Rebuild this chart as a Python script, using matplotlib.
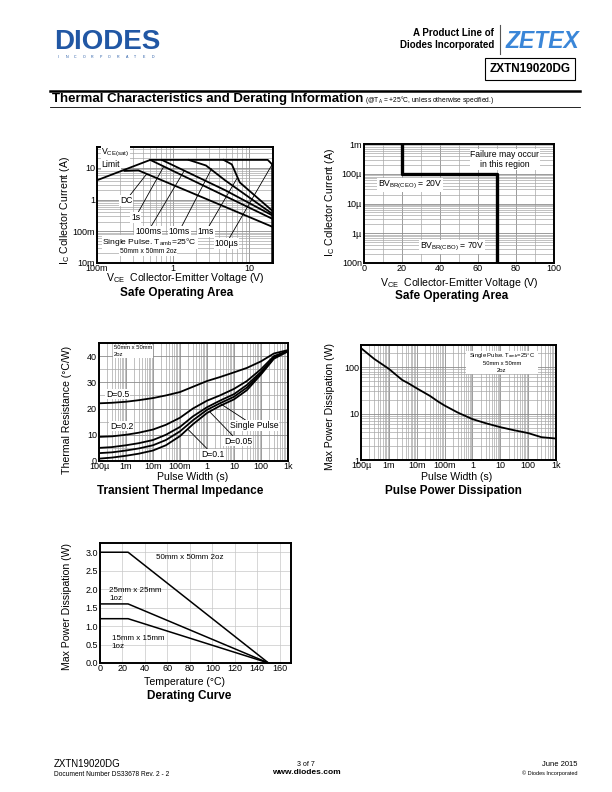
import numpy as np
import matplotlib
matplotlib.use("Agg")
import matplotlib.pyplot as plt
from matplotlib.ticker import FixedLocator, MultipleLocator, LogLocator, NullFormatter

plt.rcParams['font.family'] = ['Liberation Sans', 'DejaVu Sans']
plt.rcParams['mathtext.fontset'] = 'custom'
plt.rcParams['mathtext.rm'] = 'Liberation Sans'

W, H = 612, 792

# ---- data: safe operating area (log-log) ----
soa_env_v = [0.1, 0.5, 17.5, 20, 20]
soa_env_i = [4.1, 18, 18, 13, 0.01]
soa_dc_v = [0.23, 0.35, 20]
soa_dc_i = [8.1, 8.4, 0.14]
soa_1s_v = [0.5, 20]
soa_1s_i = [18, 0.25]
soa_100ms_v = [0.71, 4.8, 20]
soa_100ms_i = [18, 2.0, 0.32]
soa_10ms_v = [1.6, 2.7, 4.8, 20]
soa_10ms_i = [18, 12, 4.1, 0.36]
soa_1ms_v = [4.6, 5.9, 7.5, 20]
soa_1ms_i = [18, 13, 3.5, 0.45]
soa_xticks = [0.1, 1, 10]
soa_xlabels = ['100m', '1', '10']
soa_yticks = [0.01, 0.1, 1, 10]
soa_ylabels = ['10m', '100m', '1', '10']

# ---- data: breakdown SOA ----
bv_v = [20, 20, 70, 70]
bv_i = [1e-3, 1e-4, 1e-4, 1e-7]
bv_xticks = [0, 20, 40, 60, 80, 100]
bv_yticks = [1e-7, 1e-6, 1e-5, 1e-4, 1e-3]
bv_ylabels = ['100n', '1µ', '10µ', '100µ', '1m']

# ---- data: transient thermal impedance ----
tw = [1e-4, 3e-4, 1e-3, 3e-3, 1e-2, 3e-2, 0.1, 0.3, 1, 3, 10, 30, 100, 300, 1000]
z_d05 = [22.0, 22.2, 22.6, 23.2, 24.0, 25.0, 26.3, 28.3, 30.5, 32.0, 33.8, 35.5, 38.0, 41.0, 42.3]
z_d02 = [9.2, 9.4, 10.0, 10.8, 12.0, 13.8, 16.5, 20.0, 23.0, 25.0, 27.5, 30.5, 35.0, 40.0, 42.0]
z_d01 = [5.0, 5.3, 6.0, 6.8, 8.0, 10.0, 13.0, 17.0, 20.5, 23.0, 25.5, 29.0, 34.0, 39.5, 42.0]
z_d005 = [3.0, 3.3, 4.0, 4.8, 6.0, 8.0, 11.3, 15.5, 19.5, 22.0, 24.5, 28.0, 33.5, 39.3, 42.0]
z_sp = [0.9, 1.3, 2.0, 2.8, 4.0, 6.0, 9.5, 14.0, 18.3, 21.0, 23.5, 27.0, 33.0, 39.0, 41.8]
pw_xticks = [1e-4, 1e-3, 1e-2, 1e-1, 1, 10, 100, 1000]
pw_xlabels = ['100µ', '1m', '10m', '100m', '1', '10', '100', '1k']

# ---- data: pulse power dissipation ----
pp_t = [1e-4, 3e-4, 1e-3, 3e-3, 5e-3, 1e-2, 3e-2, 6e-2, 0.1, 0.3, 1, 3, 10, 30, 100, 300, 1000]
pp_p = [257, 150, 92, 53, 45, 35, 24, 18, 14.9, 10.5, 7.6, 6.2, 5.1, 4.4, 3.8, 3.1, 2.9]

# ---- data: derating ----
der_t = [0, 25, 150]
der_50 = [3.0, 3.0, 0]
der_25 = [1.6, 1.6, 0]
der_15 = [1.2, 1.2, 0]

fig = plt.figure(figsize=(W / 100, H / 100), dpi=100)


def box(x0, y0, x1, y1):
    return [x0 / W, 1 - y1 / H, (x1 - x0) / W, (y1 - y0) / H]


def ftxt(x, y, s, **kw):
    fig.text(x / W, 1 - y / H, s, **kw)


def style(ax):
    for s in ax.spines.values():
        s.set_linewidth(1.4)
    ax.tick_params(which='both', length=0, labelsize=6.5)
    ax.tick_params(axis='x', pad=1)
    ax.tick_params(axis='y', pad=1.5)
    ax.grid(True, which='major', color='#8c8c8c', lw=0.6)
    ax.grid(True, which='minor', color='#a8a8a8', lw=0.5)
    ax.set_axisbelow(True)


wbox = dict(fc='white', ec='none', pad=0.6)
LW = 1.3
AX_FS = 7.6
TI_FS = 8.5
AN_FS = 6.2

# ================= chart 1 =================
ax1 = fig.add_axes(box(97, 147, 273, 263))
ax1.set_xscale('log')
ax1.set_yscale('log')
ax1.set_xlim(0.1, 20.5)
ax1.set_ylim(0.01, 46)
ax1.plot(soa_env_v, soa_env_i, c='k', lw=LW)
for v, i in [(soa_dc_v, soa_dc_i), (soa_1s_v, soa_1s_i), (soa_100ms_v, soa_100ms_i),
             (soa_10ms_v, soa_10ms_i), (soa_1ms_v, soa_1ms_i)]:
    ax1.plot(v, i, c='k', lw=LW)
ax1.xaxis.set_major_locator(FixedLocator(soa_xticks))
ax1.set_xticklabels(soa_xlabels)
ax1.yaxis.set_major_locator(FixedLocator(soa_yticks))
ax1.set_yticklabels(soa_ylabels)
ax1.xaxis.set_minor_locator(LogLocator(subs=np.arange(2, 10)))
ax1.yaxis.set_minor_locator(LogLocator(subs=np.arange(2, 10)))
ax1.xaxis.set_minor_formatter(NullFormatter())
ax1.yaxis.set_minor_formatter(NullFormatter())
style(ax1)
ax1.text(0.025, 0.945, r'V$_{\mathregular{CE(sat)}}$', transform=ax1.transAxes, fontsize=AN_FS, va='center', bbox=wbox)
ax1.text(0.025, 0.85, 'Limit', transform=ax1.transAxes, fontsize=AN_FS, va='center', bbox=wbox)
leaders1 = [('DC', (0.24, 0.95), (0.45, 6.5)),
            ('1s', (0.32, 0.28), (0.75, 11.0)),
            ('100ms', (0.47, 0.1), (1.4, 8.2)),
            ('10ms', (1.2, 0.1), (3.2, 9.5)),
            ('1ms', (2.7, 0.1), (7.0, 5.0)),
            ('100µs', (5.0, 0.042), (20, 13))]
for lab, p0, p1 in leaders1:
    ax1.annotate(lab, xy=p1, xytext=p0, fontsize=AN_FS, ha='center', va='center',
                 bbox=wbox, arrowprops=dict(arrowstyle='-', lw=0.6, color='k', shrinkA=0, shrinkB=0))
ax1.text(0.3, 0.184, r'Single Pulse. T$_{\mathregular{amb}}$=25°C', transform=ax1.transAxes,
         fontsize=6.1, ha='center', va='center', bbox=wbox)
ax1.text(0.29, 0.097, '50mm x 50mm 2oz', transform=ax1.transAxes, fontsize=4.8,
         ha='center', va='center', bbox=wbox)
ftxt(65, 210, r'I$_{\mathregular{C}}$ Collector Current (A)', rotation=90, fontsize=AX_FS, ha='center', va='center')
ftxt(185, 278, r'V$_{\mathregular{CE}}$  Collector-Emitter Voltage (V)', fontsize=AX_FS, ha='center', va='center')
ftxt(177, 293, 'Safe Operating Area', fontsize=TI_FS, weight='bold', ha='center', va='center')

# ================= chart 2 =================
ax2 = fig.add_axes(box(364, 144, 554, 263))
ax2.set_yscale('log')
ax2.set_xlim(0, 100)
ax2.set_ylim(1e-7, 1e-3)
ax2.plot(bv_v, bv_i, c='k', lw=2.4)
ax2.xaxis.set_major_locator(FixedLocator(bv_xticks))
ax2.xaxis.set_minor_locator(MultipleLocator(10))
ax2.yaxis.set_major_locator(FixedLocator(bv_yticks))
ax2.set_yticklabels(bv_ylabels)
ax2.yaxis.set_minor_locator(LogLocator(subs=np.arange(2, 10)))
ax2.yaxis.set_minor_formatter(NullFormatter())
style(ax2)
ax2.text(0.742, 0.87, 'Failure may occur\nin this region', transform=ax2.transAxes, fontsize=AN_FS,
         ha='center', va='center', bbox=wbox, linespacing=1.2)
ax2.text(0.242, 0.655, r'BV$_{\mathregular{BR(CEO)}}$ = 20V', transform=ax2.transAxes, fontsize=AN_FS,
         ha='center', va='center', bbox=wbox)
ax2.text(0.462, 0.134, r'BV$_{\mathregular{BR(CBO)}}$ = 70V', transform=ax2.transAxes, fontsize=AN_FS,
         ha='center', va='center', bbox=wbox)
ftxt(330, 202, r'I$_{\mathregular{C}}$ Collector Current (A)', rotation=90, fontsize=AX_FS, ha='center', va='center')
ftxt(459, 283, r'V$_{\mathregular{CE}}$  Collector-Emitter Voltage (V)', fontsize=AX_FS, ha='center', va='center')
ftxt(452, 296, 'Safe Operating Area', fontsize=TI_FS, weight='bold', ha='center', va='center')

# ================= chart 3 =================
ax3 = fig.add_axes(box(99, 343, 288, 461))
ax3.set_xscale('log')
ax3.set_xlim(1e-4, 1000)
ax3.set_ylim(0, 45)
for z in [z_d05, z_d02, z_d01, z_d005, z_sp]:
    ax3.plot(tw, z, c='k', lw=LW)
ax3.xaxis.set_major_locator(FixedLocator(pw_xticks))
ax3.set_xticklabels(pw_xlabels)
ax3.xaxis.set_minor_locator(LogLocator(subs=np.arange(2, 10), numticks=20))
ax3.xaxis.set_minor_formatter(NullFormatter())
ax3.yaxis.set_major_locator(MultipleLocator(10))
ax3.yaxis.set_minor_locator(MultipleLocator(5))
style(ax3)
ax3.text(5e-4, 25.5, 'D=0.5', fontsize=AN_FS, ha='center', va='center', bbox=wbox)
ax3.text(6.8e-4, 13.3, 'D=0.2', fontsize=AN_FS, ha='center', va='center', bbox=wbox)
leaders3 = [('Single Pulse', (55, 13.5), (3.0, 22.0)),
            ('D=0.05', (14, 7.6), (1.2, 19.0)),
            ('D=0.1', (1.6, 2.6), (0.2, 12.0))]
for lab, p0, p1 in leaders3:
    ax3.annotate(lab, xy=p1, xytext=p0, fontsize=AN_FS, ha='center', va='center',
                 bbox=wbox, arrowprops=dict(arrowstyle='-', lw=0.6, color='k', shrinkA=0, shrinkB=0))
ax3.text(0.08, 0.93, '50mm x 50mm\n2oz', transform=ax3.transAxes, fontsize=4.2, ha='left',
         va='center', bbox=wbox, linespacing=1.4)
ftxt(67, 410, 'Thermal Resistance (°C/W)', rotation=90, fontsize=AX_FS, ha='center', va='center')
ftxt(193, 477, 'Pulse Width (s)', fontsize=AX_FS, ha='center', va='center')
ftxt(180, 491, 'Transient Thermal Impedance', fontsize=TI_FS, weight='bold', ha='center', va='center')

# ================= chart 4 =================
ax4 = fig.add_axes(box(361, 345, 556, 460))
ax4.set_xscale('log')
ax4.set_yscale('log')
ax4.set_xlim(1e-4, 1000)
ax4.set_ylim(1, 300)
ax4.plot(pp_t, pp_p, c='k', lw=LW)
ax4.xaxis.set_major_locator(FixedLocator(pw_xticks))
ax4.set_xticklabels(pw_xlabels)
ax4.xaxis.set_minor_locator(LogLocator(subs=np.arange(2, 10), numticks=20))
ax4.xaxis.set_minor_formatter(NullFormatter())
ax4.yaxis.set_major_locator(FixedLocator([1, 10, 100]))
ax4.set_yticklabels(['1', '10', '100'])
ax4.yaxis.set_minor_locator(LogLocator(subs=np.arange(2, 10)))
ax4.yaxis.set_minor_formatter(NullFormatter())
style(ax4)
ax4.text(0.722, 0.845, ' ' * 44 + '\n\n\n', transform=ax4.transAxes, fontsize=4.2,
         ha='center', va='center', bbox=dict(fc='white', ec='none', pad=0.3))
ax4.text(0.722, 0.913, r'Single Pulse. T$_{\mathregular{amb}}$=25°C', transform=ax4.transAxes,
         fontsize=4.2, ha='center', va='center')
ax4.text(0.722, 0.835, '50mm x 50mm', transform=ax4.transAxes, fontsize=4.2, ha='center', va='center')
ax4.text(0.722, 0.774, '2oz', transform=ax4.transAxes, fontsize=4.2, ha='center', va='center')
ftxt(330, 407, 'Max Power Dissipation (W)', rotation=90, fontsize=AX_FS, ha='center', va='center')
ftxt(457, 477, 'Pulse Width (s)', fontsize=AX_FS, ha='center', va='center')
ftxt(453, 491, 'Pulse Power Dissipation', fontsize=TI_FS, weight='bold', ha='center', va='center')

# ================= chart 5 =================
ax5 = fig.add_axes(box(100, 543, 291, 663))
ax5.set_xlim(0, 170)
ax5.set_ylim(0, 3.25)
for p in [der_50, der_25, der_15]:
    ax5.plot(der_t, p, c='k', lw=1.1)
ax5.xaxis.set_major_locator(MultipleLocator(20))
ax5.yaxis.set_major_locator(MultipleLocator(0.5))
ax5.yaxis.set_major_formatter(matplotlib.ticker.FormatStrFormatter('%.1f'))
style(ax5)
ax5.grid(True, which='major', color='#c8c8c8', lw=0.5)
ax5.text(80, 2.85, '50mm x 50mm 2oz', fontsize=5.8, ha='center', va='center')
ax5.text(8, 1.86, '25mm x 25mm\n1oz', fontsize=5.8, ha='left', va='center', linespacing=1.3)
ax5.text(10.5, 0.56, '15mm x 15mm\n1oz', fontsize=5.8, ha='left', va='center', linespacing=1.3)
ftxt(67, 606, 'Max Power Dissipation (W)', rotation=90, fontsize=AX_FS, ha='center', va='center')
ftxt(185, 682, 'Temperature (°C)', fontsize=AX_FS, ha='center', va='center')
ftxt(189, 696, 'Derating Curve', fontsize=TI_FS, weight='bold', ha='center', va='center')

# ================= page header / footer =================
ftxt(54, 42, 'DIODES', fontsize=20, weight='bold', color='#2157a4', ha='left', va='center')
for k, ch in enumerate('INCORPORATED'):
    ftxt(58 + k * 8.6, 56.5, ch, fontsize=2.6, color='#2157a4', ha='center', va='center')
ftxt(494, 33, 'A Product Line of', fontsize=7, weight='bold', ha='right', va='center')
ftxt(494, 45, 'Diodes Incorporated', fontsize=7, weight='bold', ha='right', va='center')
fig.add_artist(plt.Line2D([500 / W, 500 / W], [1 - 25 / H, 1 - 54 / H], color='#555555', lw=0.8))
ftxt(542, 41, 'ZETEX', fontsize=16.5, weight='bold', style='italic', color='#3a86d8', ha='center', va='center')
ftxt(530, 69, 'ZXTN19020DG', fontsize=8.5, weight='bold', ha='center', va='center',
     bbox=dict(fc='white', ec='k', lw=0.8, boxstyle='square,pad=0.4'))
fig.add_artist(plt.Line2D([50 / W, 580 / W], [1 - 91 / H, 1 - 91 / H], color='k', lw=1.8))
fig.add_artist(plt.Line2D([50 / W, 580 / W], [1 - 107 / H, 1 - 107 / H], color='k', lw=0.6))
ftxt(52, 99, 'Thermal Characteristics and Derating Information', fontsize=9.5, weight='bold',
     ha='left', va='center')
ftxt(365, 100, r'(@T$_{\mathregular{A}}$ = +25°C, unless otherwise specified.)', fontsize=4.8,
     ha='left', va='center')

ftxt(54, 764, 'ZXTN19020DG', fontsize=7, ha='left', va='center')
ftxt(54, 774, 'Document Number DS33678 Rev. 2 - 2', fontsize=4.8, ha='left', va='center')
ftxt(306, 764, '3 of 7', fontsize=5, ha='center', va='center')
ftxt(306, 773, 'www.diodes.com', fontsize=6, weight='bold', ha='center', va='center')
ftxt(577, 764, 'June 2015', fontsize=5.5, ha='right', va='center')
ftxt(577, 773, '© Diodes Incorporated', fontsize=4, ha='right', va='center')

fig.savefig('out.png', dpi=100)
